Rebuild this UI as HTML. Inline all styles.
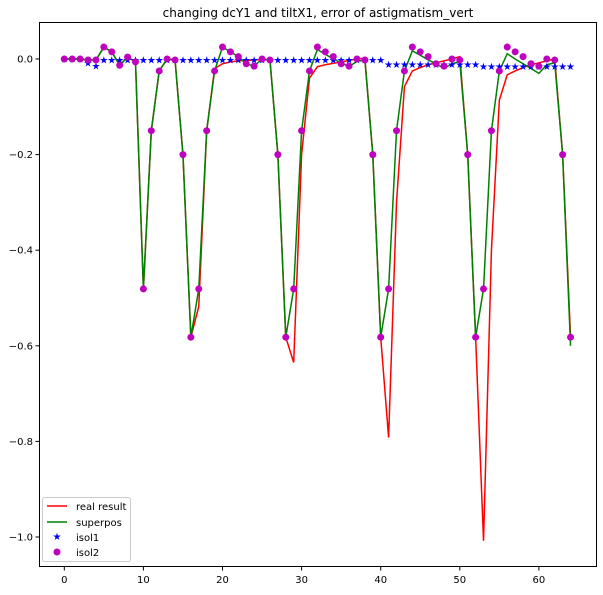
<!DOCTYPE html>
<html><head><meta charset="utf-8"><style>
body{margin:0;background:#fff;}
svg text{font-family:"DejaVu Sans","Liberation Sans",sans-serif;}
</style></head><body>
<svg id="c" width="603" height="590" xmlns="http://www.w3.org/2000/svg">
<rect width="603" height="590" fill="#fff"/>
<text x="318" y="17" font-size="12" text-anchor="middle">changing dcY1 and tiltX1, error of astigmatism_vert</text>
<g id="grid"></g>
<g id="plot"></g>
<rect x="39.5" y="22.5" width="557" height="544" fill="none" stroke="#000" stroke-width="1"/>
<g>
<rect x="42.5" y="497.5" width="88" height="64" rx="2" fill="#fff" fill-opacity="0.8" stroke="#ccc"/>
<line x1="47" y1="506" x2="67" y2="506" stroke="red" stroke-width="1.5"/>
<text x="76" y="510" font-size="10">real result</text>
<line x1="47" y1="522" x2="67" y2="522" stroke="green" stroke-width="1.5"/>
<text x="76" y="526" font-size="10">superpos</text>
<text x="57" y="540" font-size="10" fill="blue" text-anchor="middle">★</text>
<text x="76" y="541" font-size="10">isol1</text>
<circle cx="57" cy="552" r="3.5" fill="#bf00bf"/>
<text x="76" y="556" font-size="10">isol2</text>
</g>
</svg>
<script>
const xTicks=[0,10,20,30,40,50,60];
const yTicks=[0.0,-0.2,-0.4,-0.6,-0.8,-1.0];
const yTickLabels=["0.0","−0.2","−0.4","−0.6","−0.8","−1.0"];
const isol2=[0,0,0,-0.002,-0.002,0.025,0.015,-0.013,0.004,-0.006,-0.481,-0.15,-0.025,0,-0.002,-0.2,-0.582,-0.481,-0.15,-0.025,0.025,0.015,0.005,-0.01,-0.015,0,-0.002,-0.2,-0.582,-0.481,-0.15,-0.025,0.025,0.015,0.005,-0.01,-0.015,0,-0.002,-0.2,-0.582,-0.481,-0.15,-0.025,0.025,0.015,0.005,-0.01,-0.015,0,-0.002,-0.2,-0.582,-0.481,-0.15,-0.025,0.025,0.015,0.005,-0.01,-0.015,0,-0.002,-0.2,-0.582];
const superpos=[0,0,0,-0.002,-0.002,0.025,0.015,-0.013,0.004,-0.006,-0.481,-0.15,-0.025,0,-0.002,-0.2,-0.582,-0.481,-0.15,-0.025,0.025,0.015,0.005,-0.01,-0.015,0,-0.002,-0.2,-0.582,-0.481,-0.15,-0.025,0.02,0.01,0,-0.008,-0.016,-0.005,-0.002,-0.2,-0.582,-0.481,-0.15,-0.025,0.017,0.008,-0.002,-0.01,-0.02,-0.01,-0.005,-0.2,-0.582,-0.481,-0.15,-0.025,0.011,0.0,-0.01,-0.02,-0.03,-0.012,-0.008,-0.2,-0.6];
const realResult=[0,0,0,-0.002,-0.002,0.025,0.015,-0.013,0.004,-0.006,-0.481,-0.15,-0.025,0,-0.002,-0.2,-0.582,-0.518,-0.15,-0.02,-0.01,-0.006,-0.004,-0.003,-0.002,-0.001,-0.002,-0.2,-0.582,-0.635,-0.2,-0.04,-0.016,-0.012,-0.009,-0.006,-0.003,0,0.002,-0.2,-0.582,-0.792,-0.3,-0.058,-0.025,-0.018,-0.012,-0.008,-0.004,0,0.005,-0.2,-0.582,-1.008,-0.4,-0.086,-0.033,-0.025,-0.018,-0.012,-0.008,-0.004,0,-0.2,-0.582];
const isol1=[0,0,0,-0.008,-0.015,-0.002,-0.002,-0.002,-0.002,-0.002,-0.002,-0.002,-0.002,-0.002,-0.002,-0.002,-0.002,-0.002,-0.002,-0.002,-0.002,-0.002,-0.002,-0.002,-0.002,-0.002,-0.002,-0.002,-0.002,-0.002,-0.002,-0.002,-0.002,-0.002,-0.002,-0.002,-0.002,-0.002,-0.002,-0.002,-0.002,-0.011,-0.011,-0.011,-0.011,-0.011,-0.011,-0.011,-0.011,-0.011,-0.011,-0.011,-0.011,-0.016,-0.016,-0.016,-0.016,-0.016,-0.016,-0.016,-0.016,-0.016,-0.016,-0.016,-0.016];
const X=v=>64.3+7.91*v;
const Y=v=>59-478*v;
const NS="http://www.w3.org/2000/svg";
const grid=document.getElementById('grid');
const plot=document.getElementById('plot');
function mk(tag,attrs,parent){const e=document.createElementNS(NS,tag);for(const k in attrs)e.setAttribute(k,attrs[k]);parent.appendChild(e);return e;}
xTicks.forEach(t=>{
  const l=mk('line',{x1:X(t),x2:X(t),y1:567,y2:570.5,stroke:'#000'},grid);
  
  
  const tx=mk('text',{x:X(t),y:583,'font-size':10,'text-anchor':'middle'},grid);
  tx.textContent=String(t);
  
  
});
yTicks.forEach((t,i)=>{
  const l=mk('line',{x1:35.5,x2:39.5,y1:Y(t),y2:Y(t),stroke:'#000'},grid);
  
  
  const tx=mk('text',{x:33,y:Y(t)+3.5,'font-size':10,'text-anchor':'end'},grid);
  tx.textContent=yTickLabels[i];
  
  
});
function line(arr,color,name){
  const p=mk('polyline',{points:arr.map((v,i)=>X(i)+','+Y(v)).join(' '),fill:'none',stroke:color,'stroke-width':1.5},plot);
  
  
}
line(realResult,'red','real-result-line');
line(superpos,'green','superpos-line');
isol1.forEach((v,i)=>{
  const s=mk('text',{x:X(i),y:Y(v)+3.5,'font-size':10,fill:'blue','text-anchor':'middle'},plot);
  s.textContent='★';
  
  
});
isol2.forEach((v,i)=>{
  const c=mk('circle',{cx:X(i),cy:Y(v),r:3.5,fill:'#bf00bf'},plot);
  
  
});
</script>
</body></html>
